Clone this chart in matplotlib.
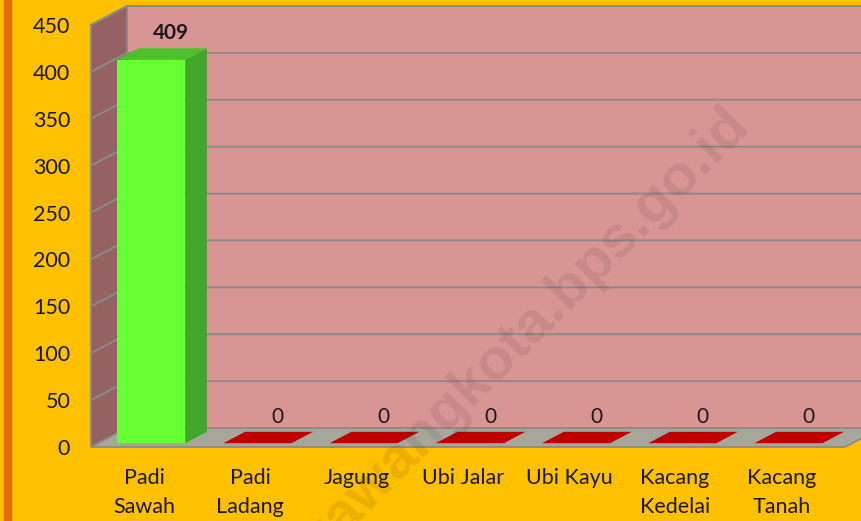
import matplotlib.pyplot as plt
from matplotlib.patches import Polygon, Rectangle

plt.rcParams['font.family'] = ['Lato', 'DejaVu Sans']

categories = ['Padi\nSawah', 'Padi\nLadang', 'Jagung', 'Ubi Jalar', 'Ubi Kayu',
              'Kacang\nKedelai', 'Kacang\nTanah']
values = [409, 0, 0, 0, 0, 0, 0]
yticks = list(range(0, 451, 50))

W, H = 862, 521
fig = plt.figure(figsize=(W / 100, H / 100), dpi=100, facecolor='#FFC000')
fig.patches.append(Rectangle((4 / W, 0), 7 / W, 1, transform=fig.transFigure,
                             color='#E46C0A', zorder=0))

ax = fig.add_axes([91 / W, 74 / H, 754 / W, 422 / H])
x0, x1 = -0.5, 6.6
ymax = 450
ax.set_xlim(x0, x1)
ax.set_ylim(0, ymax)
ax.patch.set_visible(False)
for s in ax.spines.values():
    s.set_visible(False)

# oblique "3D" depth offset, in data units
DX = 36 / (754 / (x1 - x0))
DY = 19 / (422 / ymax)


def P(x, y, d):
    return (x + d * DX, y + d * DY)


def face(pts, color, z, ec='none', lw=0):
    ax.add_patch(Polygon([P(*p) for p in pts], closed=True, fc=color, ec=ec,
                         lw=lw, zorder=z, clip_on=False))


grid_c = '#8A8A8A'
# walls and floor
face([(x0, 0, 1), (x1, 0, 1), (x1, ymax, 1), (x0, ymax, 1)], '#D99594', 1, grid_c, 1.2)
face([(x0, 0, 0), (x0, 0, 1), (x0, ymax, 1), (x0, ymax, 0)], '#956263', 1, grid_c, 1.2)
for v in yticks[1:]:
    pts = [P(x0, v, 0), P(x0, v, 1), P(x1, v, 1)]
    ax.plot([p[0] for p in pts], [p[1] for p in pts], color=grid_c, lw=1.4,
            zorder=2, clip_on=False)
face([(x0, 0, 0), (x1, 0, 0), (x1, 0, 1), (x0, 0, 1)], '#A6A69A', 3, grid_c, 1.3)

# bars
bw, d0, d1 = 0.64, 0.2, 0.8
for i, v in enumerate(values):
    l, r = i - bw / 2, i + bw / 2
    if v > 0:
        face([(r, 0, d0), (r, 0, d1), (r, v, d1), (r, v, d0)], '#41A62A', 4)
        face([(l, v, d0), (r, v, d0), (r, v, d1), (l, v, d1)], '#4DC12B', 4)
        face([(l, 0, d0), (r, 0, d0), (r, v, d0), (l, v, d0)], '#66FF33', 5)
    else:
        face([(l, 0, d0), (r, 0, d0), (r, 0, d1), (l, 0, d1)], '#C00000', 4)
    ax.annotate(str(v), P(i, v, d1), xytext=(-1, 11), textcoords='offset points',
                ha='center', va='center', fontsize=15, color='#1A1A1A',
                fontweight='bold' if v > 0 else 'normal', zorder=6,
                annotation_clip=False)

ax.set_xticks(range(len(categories)))
ax.set_xticklabels(categories, fontsize=15.5, color='#1A1A1A', linespacing=1.6)
ax.set_yticks(yticks)
ax.set_yticklabels([str(t) for t in yticks], fontsize=15.5, color='#1A1A1A')
ax.tick_params(axis='x', length=0, pad=15)
ax.tick_params(axis='y', length=0, pad=15)

fig.text(752 / W, 1 - 127 / H, 'singkawangkota.bps.go.id', rotation=45,
         rotation_mode='anchor', ha='right', va='baseline', fontsize=42,
         fontweight='bold', family='Liberation Sans', color='#000000',
         alpha=0.08, zorder=10)

fig.savefig('out.png', dpi=100, facecolor=fig.get_facecolor())
